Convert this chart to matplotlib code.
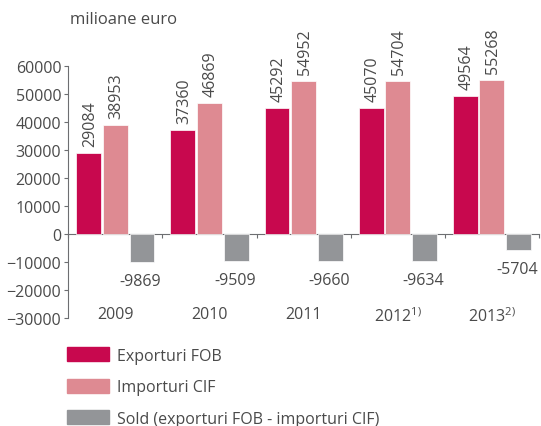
import numpy as np
import matplotlib
matplotlib.use('Agg')
import matplotlib.pyplot as plt
from matplotlib.patches import Patch

plt.rcParams['font.family'] = ['Open Sans', 'DejaVu Sans']
plt.rcParams['mathtext.fontset'] = 'custom'
plt.rcParams['mathtext.rm'] = 'Open Sans'
plt.rcParams['mathtext.it'] = 'Open Sans'

# data (milioane euro)
years = ['2009', '2010', '2011', '2012$^{\\mathregular{1)}}$', '2013$^{\\mathregular{2)}}$']
exports = [29084, 37360, 45292, 45070, 49564]
imports = [38953, 46869, 54952, 54704, 55268]
balance = [-9869, -9509, -9660, -9634, -5704]

c_exp = '#C8084E'
c_imp = '#DE8A92'
c_bal = '#939598'
c_txt = '#4a4a4a'
c_ax = '#6d6e71'

fig = plt.figure(figsize=(5.41, 4.27), dpi=100)
ax = fig.add_axes([68.3 / 541, 1 - 318.7 / 427, (539 - 68.3) / 541, (318.7 - 67.5) / 427])

x = np.arange(len(years))
w = 0.265
off = 0.283

b1 = ax.bar(x - off, exports, w, color=c_exp, edgecolor='white', lw=0.5)
b2 = ax.bar(x, imports, w, color=c_imp, edgecolor='white', lw=0.5)
b3 = ax.bar(x + off, balance, w, color=c_bal, edgecolor='white', lw=0.5)

for bars, vals in ((b1, exports), (b2, imports)):
    for r, v in zip(bars, vals):
        ax.annotate(str(v), (r.get_x() + r.get_width() / 2, v),
                    xytext=(1, 5), textcoords='offset points',
                    rotation=90, ha='center', va='bottom',
                    fontsize=11.5, color=c_txt)
for r, v in zip(b3, balance):
    ax.annotate(str(v), (r.get_x() + r.get_width() / 2, v),
                xytext=(-1, -14), textcoords='offset points',
                ha='center', va='center', fontsize=11.5, color=c_txt)

ax.set_xlim(-0.5, len(years) - 0.5)
ax.set_ylim(-30000, 60000)
ax.set_yticks(np.arange(-30000, 60001, 10000))
ax.tick_params(axis='y', length=3, width=0.8, pad=2, colors=c_ax,
               labelcolor=c_txt, labelsize=11.5)

ax.set_xticks(x)
ax.set_xticklabels(years)
ax.tick_params(axis='x', length=0, pad=-8.5, labelsize=11.5, labelcolor=c_txt)

for s in ('top', 'right', 'bottom'):
    ax.spines[s].set_visible(False)
ax.spines['left'].set_color(c_ax)
ax.spines['left'].set_linewidth(0.8)

# zero line with category boundary ticks
zero = ax.secondary_xaxis(30000 / 90000)
zero.set_xticks(np.arange(len(years) + 1) - 0.5)
zero.set_xticklabels([])
zero.tick_params(axis='x', length=3, width=0.8, colors=c_ax)
zero.spines['bottom'].set_color(c_ax)
zero.spines['bottom'].set_linewidth(0.8)

fig.text(70 / 541, 1 - 20 / 427, 'milioane euro', ha='left', va='center',
         fontsize=12, color=c_txt)

handles = [Patch(color=c_exp), Patch(color=c_imp), Patch(color=c_bal)]
labels = ['Exporturi FOB', 'Importuri CIF', 'Sold (exporturi FOB - importuri CIF)']
fig.legend(handles, labels, loc='upper left', bbox_to_anchor=(53 / 541, 1 - 334 / 427),
           frameon=False, fontsize=11.5, labelcolor=c_txt, handlelength=2.6,
           handleheight=0.95, labelspacing=0.95, handletextpad=0.5)

fig.savefig('out.png', dpi=100)
